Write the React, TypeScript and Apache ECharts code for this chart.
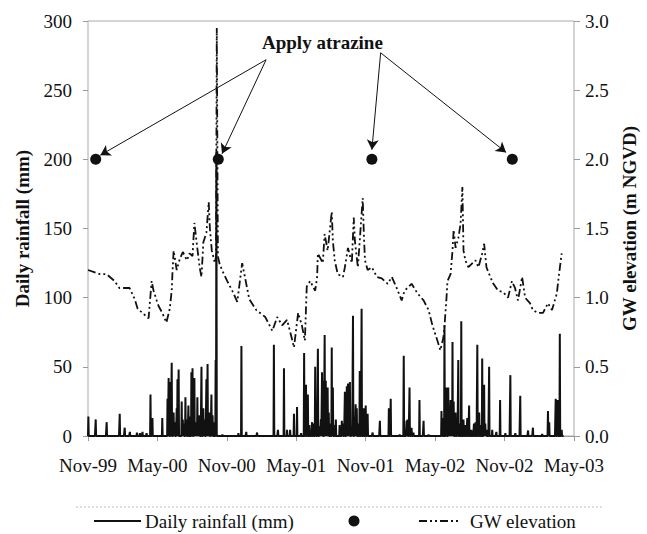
import React, { useEffect, useRef } from "react";
import * as echarts from "echarts";

const FONT = '"Liberation Serif", "Times New Roman", serif';

const xTickLabels = ["Nov-99", "May-00", "Nov-00", "May-01", "Nov-01", "May-02", "Nov-02", "May-03"];

const rainDates = [
  "1999-11-02", "1999-11-21", "1999-12-20", "2000-01-24", "2000-02-06", "2000-02-19", "2000-03-08", "2000-03-16",
  "2000-03-23", "2000-04-03", "2000-04-13", "2000-04-18", "2000-05-14", "2000-05-28", "2000-05-31", "2000-06-01",
  "2000-06-05", "2000-06-08", "2000-06-13", "2000-06-16", "2000-06-21", "2000-06-23", "2000-06-26", "2000-07-04",
  "2000-07-07", "2000-07-10", "2000-07-14", "2000-07-17", "2000-07-22", "2000-07-26", "2000-07-30", "2000-08-02",
  "2000-08-07", "2000-08-10", "2000-08-13", "2000-08-15", "2000-08-18", "2000-08-21", "2000-08-26", "2000-08-31",
  "2000-09-03", "2000-09-08", "2000-09-11", "2000-09-14", "2000-09-16", "2000-09-21", "2000-09-24", "2000-09-28",
  "2000-10-02", "2000-10-04", "2000-10-20", "2000-12-01", "2000-12-09", "2000-12-22", "2001-01-20", "2001-03-03",
  "2001-03-14", "2001-03-30", "2001-04-07", "2001-04-15", "2001-04-25", "2001-05-03", "2001-05-14", "2001-05-22",
  "2001-05-27", "2001-06-01", "2001-06-05", "2001-06-12", "2001-06-16", "2001-06-20", "2001-06-22", "2001-06-27",
  "2001-07-02", "2001-07-05", "2001-07-08", "2001-07-10", "2001-07-15", "2001-07-18", "2001-07-20", "2001-07-23",
  "2001-07-26", "2001-07-30", "2001-08-03", "2001-08-06", "2001-08-10", "2001-08-14", "2001-08-24", "2001-08-30",
  "2001-09-02", "2001-09-07", "2001-09-12", "2001-09-15", "2001-09-18", "2001-09-20", "2001-09-25", "2001-09-28",
  "2001-10-02", "2001-10-05", "2001-10-08", "2001-10-12", "2001-10-16", "2001-10-21", "2001-10-27", "2001-11-01",
  "2001-11-06", "2001-11-19", "2001-12-08", "2002-01-01", "2002-01-06", "2002-01-30", "2002-02-09", "2002-02-16",
  "2002-02-18", "2002-02-23", "2002-02-28", "2002-03-05", "2002-03-21", "2002-04-01", "2002-04-14", "2002-05-18",
  "2002-05-20", "2002-05-26", "2002-05-31", "2002-06-01", "2002-06-05", "2002-06-08", "2002-06-11", "2002-06-14",
  "2002-06-16", "2002-06-19", "2002-06-24", "2002-06-28", "2002-07-01", "2002-07-05", "2002-07-09", "2002-07-15",
  "2002-07-20", "2002-07-25", "2002-07-30", "2002-08-05", "2002-08-12", "2002-08-16", "2002-08-21", "2002-08-26",
  "2002-08-30", "2002-09-03", "2002-09-08", "2002-09-11", "2002-09-14", "2002-09-21", "2002-09-29", "2002-10-10",
  "2002-10-20", "2002-11-03", "2002-11-16", "2002-11-29", "2002-12-12", "2003-01-02", "2003-01-15", "2003-02-08",
  "2003-02-22", "2003-02-25", "2003-03-14", "2003-03-19", "2003-03-25", "2003-03-30",
];
const rainMm = [
  14, 12, 10, 16, 6, 3, 2.5, 2,
  3, 2, 30, 13, 13, 27, 42, 8,
  39, 53, 17, 10, 20, 41, 48, 25,
  12, 9, 28, 12, 22, 14, 46, 49,
  42, 10, 7, 28, 8, 15, 50, 20,
  12, 41, 52, 9, 17, 30, 15, 10,
  55, 205, 1, 2, 65, 3, 2.5, 66,
  4.5, 49, 4.5, 4.5, 16, 21, 2, 60,
  37, 30, 8, 10, 9, 50, 17, 63,
  7, 12, 46, 40, 73, 40, 10, 35,
  17, 9, 64, 35, 8, 12, 8, 11,
  9, 32, 36, 38, 12, 39, 7, 87,
  10, 23, 20, 9, 47, 92, 20, 22,
  16, 2.5, 11, 20, 27, 1, 58, 11,
  12, 35, 6, 2.5, 26, 11, 1, 18,
  13, 80, 35, 12, 35, 15, 26, 10,
  68, 25, 17, 10, 55, 9, 83, 12,
  8, 13, 22, 4.5, 9, 10, 66, 17,
  8, 56, 37, 9, 4.5, 50, 4.5, 3,
  26, 2, 44, 2, 29, 4, 6, 1.5,
  18, 10, 27, 26, 74, 4.5,
];

const gwDates = [
  "1999-11-01", "1999-12-02", "1999-12-20", "2000-01-10", "2000-01-23", "2000-02-18", "2000-03-02", "2000-03-10",
  "2000-03-23", "2000-04-08", "2000-04-16", "2000-04-21", "2000-04-29", "2000-05-04", "2000-05-14", "2000-05-25",
  "2000-06-03", "2000-06-08", "2000-06-10", "2000-06-13", "2000-06-21", "2000-06-29", "2000-07-07", "2000-07-18",
  "2000-07-25", "2000-08-02", "2000-08-07", "2000-08-13", "2000-08-21", "2000-08-26", "2000-08-31", "2000-09-08",
  "2000-09-14", "2000-09-17", "2000-09-22", "2000-09-30", "2000-10-03", "2000-10-05", "2000-10-08", "2000-10-12",
  "2000-10-19", "2000-11-02", "2000-11-15", "2000-11-28", "2000-12-11", "2000-12-22", "2000-12-30", "2001-01-18",
  "2001-02-10", "2001-02-27", "2001-03-12", "2001-03-25", "2001-04-07", "2001-04-20", "2001-04-25", "2001-05-06",
  "2001-05-16", "2001-05-24", "2001-05-27", "2001-05-29", "2001-06-07", "2001-06-20", "2001-06-25", "2001-06-27",
  "2001-07-10", "2001-07-15", "2001-07-23", "2001-08-03", "2001-08-06", "2001-08-11", "2001-08-19", "2001-09-02",
  "2001-09-07", "2001-09-15", "2001-09-25", "2001-09-30", "2001-10-03", "2001-10-11", "2001-10-24", "2001-10-27",
  "2001-10-30", "2001-11-06", "2001-11-17", "2001-11-30", "2001-12-13", "2001-12-29", "2002-01-09", "2002-01-22",
  "2002-02-04", "2002-02-11", "2002-02-28", "2002-03-16", "2002-04-01", "2002-04-14", "2002-04-24", "2002-05-07",
  "2002-05-15", "2002-05-23", "2002-05-26", "2002-05-28", "2002-05-31", "2002-06-03", "2002-06-11", "2002-06-16",
  "2002-06-19", "2002-06-24", "2002-07-01", "2002-07-07", "2002-07-12", "2002-07-15", "2002-07-20", "2002-07-28",
  "2002-08-08", "2002-08-16", "2002-08-24", "2002-09-03", "2002-09-08", "2002-09-14", "2002-09-24", "2002-10-02",
  "2002-10-15", "2002-10-28", "2002-11-10", "2002-11-20", "2002-11-28", "2002-12-06", "2002-12-17", "2002-12-25",
  "2003-01-07", "2003-01-15", "2003-01-28", "2003-02-10", "2003-02-22", "2003-03-04", "2003-03-17", "2003-03-22",
  "2003-03-30",
];
const gwElev = [
  1.2, 1.17, 1.17, 1.12, 1.07, 1.07, 0.99, 0.92,
  0.89, 0.85, 1.12, 1.05, 0.98, 0.94, 0.89, 0.82,
  0.92, 1.05, 1.18, 1.34, 1.2, 1.28, 1.33, 1.27,
  1.32, 1.3, 1.54, 1.4, 1.22, 1.15, 1.4, 1.47,
  1.69, 1.5, 1.34, 1.25, 1.3, 2.95, 1.3, 1.25,
  1.2, 1.12, 1.05, 0.97, 1.25, 1.1, 0.99, 0.91,
  0.86, 0.76, 0.86, 0.8, 0.84, 0.7, 0.64, 0.89,
  0.8, 0.69, 0.92, 1.08, 1.12, 1.05, 1.15, 1.32,
  1.25, 1.46, 1.34, 1.62, 1.41, 1.27, 1.17, 1.15,
  1.22, 1.36, 1.25, 1.58, 1.41, 1.22, 1.72, 1.46,
  1.27, 1.2, 1.22, 1.15, 1.14, 1.1, 1.15, 1.07,
  0.98, 1.05, 1.1, 1.03, 0.98, 0.91, 0.8, 0.69,
  0.62, 0.71, 0.79, 0.87, 0.98, 1.12, 1.17, 1.34,
  1.49, 1.36, 1.43, 1.53, 1.8, 1.34, 1.27, 1.22,
  1.25, 1.27, 1.22, 1.32, 1.39, 1.22, 1.15, 1.1,
  1.05, 1.04, 1.0, 1.12, 1.07, 0.98, 1.15, 1.0,
  0.96, 0.91, 0.89, 0.89, 0.96, 0.91, 1.03, 1.15,
  1.32,
];

const atrazineDates = ["1999-11-21", "2000-10-09", "2001-11-17", "2002-11-21"];
const atrazineLevel = [200, 200, 200, 200];

// annotation arrows: [from date, from mm] -> [to date, to mm]
const arrowFromDates = ["2001-02-12", "2001-02-12", "2001-12-10", "2001-12-10"];
const arrowFromMm = [272, 272, 277, 277];
const arrowToDates = ["1999-12-03", "2000-10-19", "2001-11-17", "2002-11-05"];
const arrowToMm = [203, 204, 207, 205];

const RAIN_START = "1999-11-01";
const RAIN_END = "2003-04-04";

const GW_DASH = [8, 3, 2, 3, 2, 3];

function toMonths(s: string): number {
  const [y, m, d] = s.split("-").map(Number);
  const dim = new Date(Date.UTC(y, m, 0)).getUTCDate();
  return (y - 1999) * 12 + (m - 11) + (d - 1) / dim;
}

function iso(t: number): string {
  return new Date(t).toISOString().slice(0, 10);
}

function buildRain(): [number, number][] {
  const map: Record<string, number> = {};
  rainDates.forEach((d, i) => (map[d] = rainMm[i]));
  const out: [number, number][] = [];
  const start = Date.parse(RAIN_START + "T00:00:00Z");
  const end = Date.parse(RAIN_END + "T00:00:00Z");
  for (let t = start; t <= end; t += 86400000) {
    const d = iso(t);
    out.push([toMonths(d), map[d] ?? 0]);
  }
  return out;
}

export default function App() {
  const ref = useRef<HTMLDivElement>(null);

  useEffect(() => {
    if (!ref.current) return;
    const chart = echarts.init(ref.current, null, { renderer: "svg" });

    const rainData = buildRain();
    const gwData = gwDates.map((d, i) => [toMonths(d), gwElev[i]]);
    const atrData = atrazineDates.map((d, i) => [toMonths(d), atrazineLevel[i]]);
    const arrows = arrowFromDates.map((d, i) => [
      { coord: [toMonths(d), arrowFromMm[i]] },
      { coord: [toMonths(arrowToDates[i]), arrowToMm[i]] },
    ]);

    const labelStyle = { fontFamily: FONT, fontSize: 19, color: "#111" };
    const legendY = 521;

    chart.setOption({
      animation: false,
      backgroundColor: "#fff",
      grid: {
        left: 88,
        right: 71,
        top: 21,
        bottom: 98,
        show: true,
        borderColor: "#aaa",
        borderWidth: 1,
      },
      xAxis: {
        type: "value",
        min: 0,
        max: 42,
        interval: 6,
        axisLine: { show: true, onZero: false, lineStyle: { color: "#999", width: 1 } },
        axisTick: { show: true, length: 5, lineStyle: { color: "#999" } },
        splitLine: { show: false },
        axisLabel: {
          ...labelStyle,
          margin: 20,
          formatter: (v: number) => xTickLabels[Math.round(v / 6)] ?? "",
        },
      },
      yAxis: [
        {
          type: "value",
          min: 0,
          max: 300,
          interval: 50,
          position: "left",
          name: "Daily rainfall (mm)",
          nameLocation: "middle",
          nameRotate: 90,
          nameGap: 56,
          nameTextStyle: { fontFamily: FONT, fontSize: 19, fontWeight: "bold", color: "#111" },
          axisLine: { show: false },
          axisTick: { show: true, length: 5, lineStyle: { color: "#999" } },
          splitLine: { show: false },
          axisLabel: { ...labelStyle, margin: 16 },
        },
        {
          type: "value",
          min: 0,
          max: 3,
          interval: 0.5,
          position: "right",
          name: "GW elevation (m NGVD)",
          nameLocation: "middle",
          nameRotate: 90,
          nameGap: 46,
          nameTextStyle: { fontFamily: FONT, fontSize: 19, fontWeight: "bold", color: "#111" },
          axisLine: { show: false },
          axisTick: { show: true, length: 6, lineStyle: { color: "#999" } },
          splitLine: { show: false },
          axisLabel: { ...labelStyle, margin: 11, formatter: (v: number) => v.toFixed(1) },
        },
      ],
      graphic: [
        {
          type: "text",
          left: 262,
          top: 33,
          style: { text: "Apply atrazine", font: `bold 19px ${FONT}`, fill: "#111" },
        },
        {
          type: "line",
          shape: { x1: 76, y1: 507, x2: 604, y2: 507 },
          style: { stroke: "#bbb", lineWidth: 1, lineDash: [2, 2] },
        },
        {
          type: "line",
          shape: { x1: 94, y1: legendY, x2: 141, y2: legendY },
          style: { stroke: "#111", lineWidth: 2 },
        },
        {
          type: "text",
          x: 145,
          y: legendY,
          style: {
            text: "Daily rainfall (mm)",
            font: `19px ${FONT}`,
            fill: "#111",
            textVerticalAlign: "middle",
            verticalAlign: "middle",
          },
        },
        {
          type: "circle",
          shape: { cx: 354, cy: legendY, r: 5.5 },
          style: { fill: "#111" },
        },
        {
          type: "line",
          shape: { x1: 419, y1: legendY, x2: 460, y2: legendY },
          style: { stroke: "#111", lineWidth: 2, lineDash: GW_DASH },
        },
        {
          type: "text",
          x: 470,
          y: legendY,
          style: {
            text: "GW elevation",
            font: `19px ${FONT}`,
            fill: "#111",
            textVerticalAlign: "middle",
            verticalAlign: "middle",
          },
        },
      ],
      series: [
        {
          name: "Daily rainfall (mm)",
          type: "line",
          yAxisIndex: 0,
          data: rainData,
          symbol: "none",
          showSymbol: false,
          lineStyle: { color: "#111", width: 2 },
          itemStyle: { color: "#111" },
          z: 2,
        },
        {
          name: "GW elevation",
          type: "line",
          yAxisIndex: 1,
          data: gwData,
          symbol: "none",
          showSymbol: false,
          lineStyle: { color: "#111", width: 1.8, type: GW_DASH },
          itemStyle: { color: "#111" },
          z: 3,
        },
        {
          name: "Apply atrazine",
          type: "scatter",
          yAxisIndex: 0,
          data: atrData,
          symbol: "circle",
          symbolSize: 11,
          itemStyle: { color: "#111", opacity: 1 },
          z: 4,
          markLine: {
            silent: true,
            symbol: ["none", "arrow"],
            symbolSize: [9, 10],
            label: { show: false },
            lineStyle: { color: "#111", width: 1, type: "solid", opacity: 1 },
            emphasis: { disabled: true },
            data: arrows,
          },
        },
      ],
    });

    return () => chart.dispose();
  }, []);

  return (
    <div
      ref={ref}
      style={{ position: "fixed", left: 0, top: 0, width: 647, height: 534, background: "#fff" }}
    />
  );
}
